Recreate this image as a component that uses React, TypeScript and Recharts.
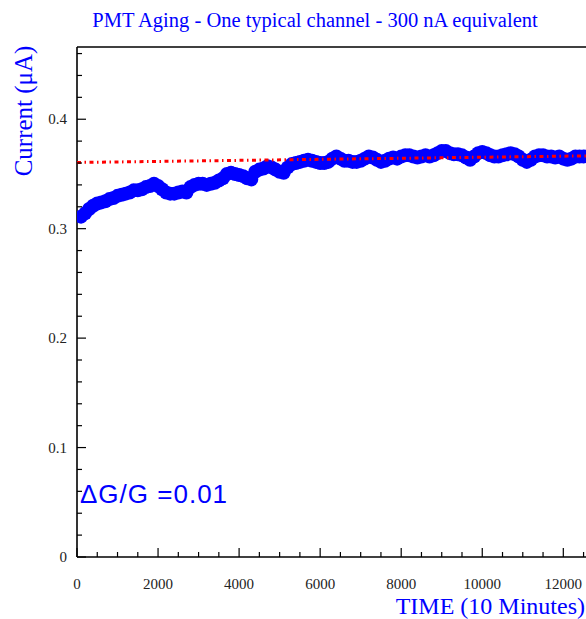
import React from "react";
import { ScatterChart, Scatter, XAxis, YAxis, ReferenceLine } from "recharts";

// Time samples (10-minute units)
const timeValues = [
  100, 200, 300, 400, 500, 600, 700, 800, 900, 1000,
  1100, 1200, 1300, 1400, 1500, 1600, 1700, 1800, 1900, 2000,
  2100, 2200, 2300, 2400, 2500, 2600, 2700, 2800, 2900, 3000,
  3100, 3200, 3300, 3400, 3500, 3600, 3700, 3800, 3900, 4000,
  4100, 4200, 4300, 4400, 4500, 4600, 4700, 4800, 4900, 5000,
  5100, 5200, 5300, 5400, 5500, 5600, 5700, 5800, 5900, 6000,
  6100, 6200, 6300, 6400, 6500, 6600, 6700, 6800, 6900, 7000,
  7100, 7200, 7300, 7400, 7500, 7600, 7700, 7800, 7900, 8000,
  8100, 8200, 8300, 8400, 8500, 8600, 8700, 8800, 8900, 9000,
  9100, 9200, 9300, 9400, 9500, 9600, 9700, 9800, 9900, 10000,
  10100, 10200, 10300, 10400, 10500, 10600, 10700, 10800, 10900, 11000,
  11100, 11200, 11300, 11400, 11500, 11600, 11700, 11800, 11900, 12000,
  12100, 12200, 12300, 12400, 12500,
];

// Measured current (µA)
const currentValues = [
  0.311, 0.314, 0.318, 0.321, 0.323, 0.324, 0.325, 0.327, 0.328, 0.330,
  0.331, 0.332, 0.333, 0.335, 0.335, 0.336, 0.338, 0.339, 0.341, 0.339,
  0.336, 0.333, 0.332, 0.332, 0.333, 0.334, 0.333, 0.338, 0.340, 0.341,
  0.341, 0.340, 0.341, 0.342, 0.344, 0.346, 0.350, 0.351, 0.350, 0.349,
  0.348, 0.346, 0.345, 0.352, 0.354, 0.355, 0.357, 0.356, 0.354, 0.352,
  0.351, 0.356, 0.359, 0.360, 0.361, 0.362, 0.363, 0.362, 0.361, 0.360,
  0.360, 0.361, 0.364, 0.366, 0.364, 0.362, 0.362, 0.361, 0.361, 0.362,
  0.364, 0.366, 0.365, 0.363, 0.361, 0.362, 0.364, 0.365, 0.364, 0.366,
  0.367, 0.367, 0.366, 0.365, 0.366, 0.367, 0.366, 0.367, 0.369, 0.371,
  0.371, 0.369, 0.368, 0.368, 0.367, 0.365, 0.363, 0.366, 0.369, 0.370,
  0.369, 0.367, 0.366, 0.366, 0.367, 0.368, 0.369, 0.368, 0.366, 0.363,
  0.361, 0.363, 0.366, 0.367, 0.367, 0.366, 0.366, 0.365, 0.366, 0.364,
  0.363, 0.364, 0.366, 0.366, 0.366,
];

// Fitted reference line (red dash-dot)
const fitTimes = [0, 12560];
const fitValues = [0.3605, 0.3665];

// Axis ticks
const xTicks = [
  0, 500, 1000, 1500, 2000, 2500, 3000, 3500, 4000, 4500, 5000, 5500, 6000,
  6500, 7000, 7500, 8000, 8500, 9000, 9500, 10000, 10500, 11000, 11500, 12000, 12500,
];
const xMajorLabels = [0, 2000, 4000, 6000, 8000, 10000, 12000];
const yTicks = [
  0, 0.02, 0.04, 0.06, 0.08, 0.1, 0.12, 0.14, 0.16, 0.18, 0.2, 0.22, 0.24,
  0.26, 0.28, 0.3, 0.32, 0.34, 0.36, 0.38, 0.4, 0.42, 0.44, 0.46,
];
const yMajorLabels = [0, 0.1, 0.2, 0.3, 0.4];

const X_MAX = 12560;
const Y_MAX = 0.466;

const mainData = timeValues.map((t, i) => ({ x: t, y: currentValues[i] }));
const fitData = fitTimes.map((t, i) => ({ x: t, y: fitValues[i] }));

const serif = "'Liberation Serif', 'Times New Roman', serif";

const XTick = (props: any) => {
  const { x, y, payload } = props;
  const v = payload.value;
  const major = xMajorLabels.includes(v);
  return (
    <g>
      <line x1={x} x2={x} y1={y} y2={y - (major ? 9 : 5)} stroke="#000" strokeWidth={1.2} />
      {major && (
        <text x={x} y={y + 32} textAnchor="middle" fontFamily={serif} fontSize={15} fill="#222">
          {v}
        </text>
      )}
    </g>
  );
};

const YTick = (props: any) => {
  const { x, y, payload } = props;
  const v = payload.value;
  const major = yMajorLabels.some((m) => Math.abs(m - v) < 1e-9);
  return (
    <g>
      <line x1={x} x2={x + (major ? 9 : 5)} y1={y} y2={y} stroke="#000" strokeWidth={1.2} />
      {major && (
        <text x={x - 10} y={y + 5} textAnchor="end" fontFamily={serif} fontSize={15} fill="#222">
          {v}
        </text>
      )}
    </g>
  );
};

const Dot = (props: any) => {
  const { cx, cy } = props;
  if (cx == null || cy == null) return null;
  return <circle cx={cx} cy={cy} r={7} fill="#0000ff" />;
};

const NoDot = () => null;

export default function App() {
  return (
    <div style={{ position: "absolute", left: 0, top: 0, width: 586, height: 619, overflow: "hidden", background: "#fff" }}>
      <ScatterChart
        width={586}
        height={619}
        margin={{ top: 47, right: 0, bottom: 32, left: 0 }}
      >
        <XAxis
          type="number"
          dataKey="x"
          domain={[0, X_MAX]}
          ticks={xTicks}
          interval={0}
          tickSize={0}
          tickMargin={0}
          tickLine={false}
          tick={<XTick />}
          height={30}
          axisLine={{ stroke: "#000", strokeWidth: 1.6 }}
          allowDataOverflow
        />
        <YAxis
          type="number"
          dataKey="y"
          domain={[0, Y_MAX]}
          ticks={yTicks}
          interval={0}
          tickSize={0}
          tickMargin={0}
          tickLine={false}
          tick={<YTick />}
          width={77}
          axisLine={{ stroke: "#000", strokeWidth: 1.6 }}
          allowDataOverflow
        />
        <ReferenceLine y={Y_MAX} stroke="#000" strokeWidth={1.6} ifOverflow="extendDomain" />
        <Scatter data={mainData} fill="#0000ff" shape={<Dot />} isAnimationActive={false} />
        <Scatter
          data={fitData}
          fill="#ff0000"
          shape={<NoDot />}
          line={{ stroke: "#ff0000", strokeWidth: 3, strokeDasharray: "4 3.5 1.5 3.5" }}
          isAnimationActive={false}
        />
      </ScatterChart>
      <svg
        width={586}
        height={619}
        style={{ position: "absolute", left: 0, top: 0, pointerEvents: "none" }}
      >
        <text x={315} y={27} textAnchor="middle" fontFamily={serif} fontSize={20.5} fill="#0000ff">
          PMT Aging - One typical channel - 300 nA equivalent
        </text>
        <text
          x={0}
          y={0}
          transform="translate(32,111) rotate(-90)"
          textAnchor="middle"
          fontFamily={serif}
          fontSize={25}
          fill="#0000ff"
        >
          Current (μA)
        </text>
        <text x={585} y={614} textAnchor="end" fontFamily={serif} fontSize={24} fill="#0000ff">
          TIME (10 Minutes)
        </text>
        <text
          x={80}
          y={503}
          fontFamily="'Liberation Sans', Arial, sans-serif"
          fontSize={26}
          letterSpacing={1}
          fill="#0000ff"
        >
          ΔG/G =0.01
        </text>
      </svg>
    </div>
  );
}
